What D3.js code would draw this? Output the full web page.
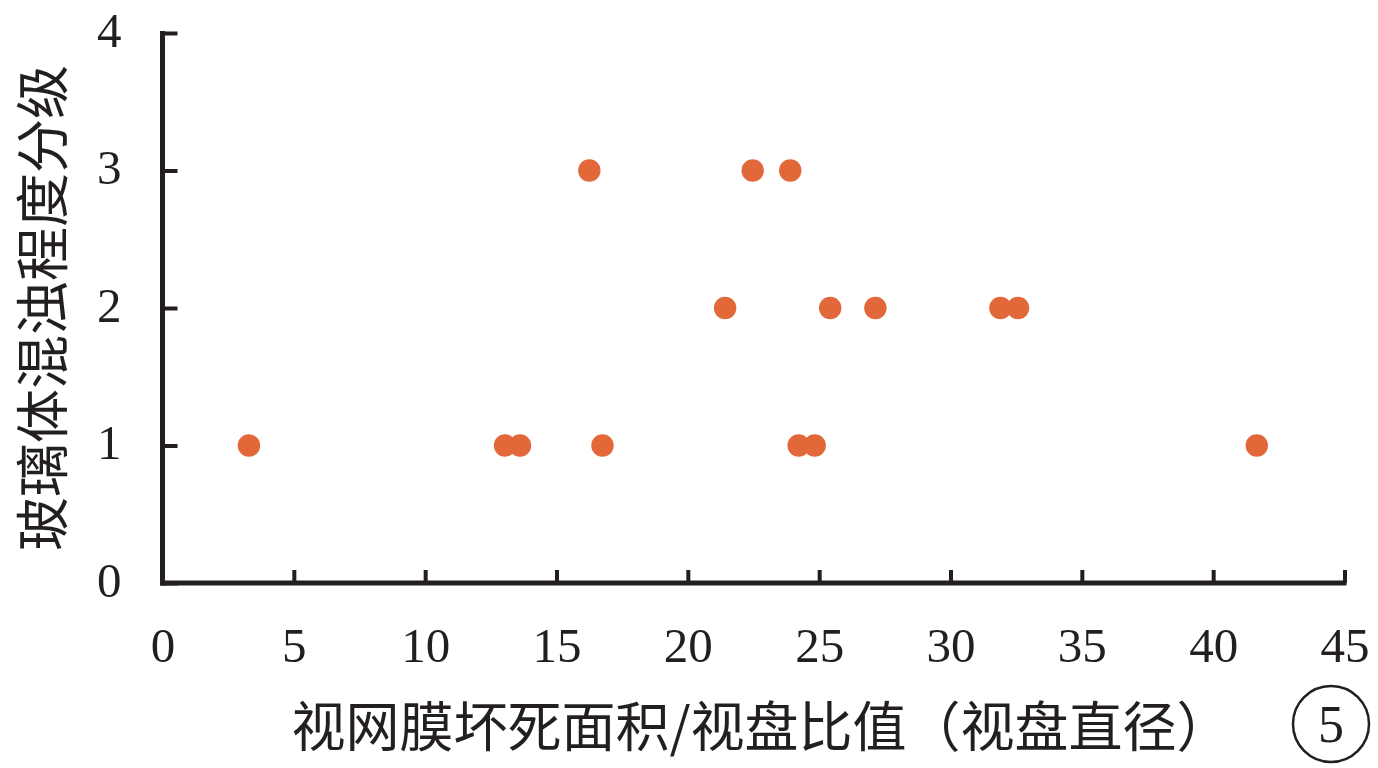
<!DOCTYPE html>
<html>
<head>
<meta charset="utf-8">
<script src="https://cdn.jsdelivr.net/npm/d3@7"></script>
<style>
html,body{margin:0;padding:0;background:#fff;}
svg{display:block;}
</style>
</head>
<body>
<svg id="chart" width="1378" height="768"></svg>
<script>
// Data
const xValues = [3.29, 13.04, 13.61, 16.75, 24.22, 24.83, 41.66, 21.42, 25.42, 27.14, 31.90, 32.57, 16.25, 22.47, 23.90];
const yValues = [1, 1, 1, 1, 1, 1, 1, 2, 2, 2, 2, 2, 3, 3, 3];
const xTicks = [0, 5, 10, 15, 20, 25, 30, 35, 40, 45];
const yTicks = [0, 1, 2, 3, 4];
const xTitle = "视网膜坏死面积/视盘比值（视盘直径）";
const yTitle = "玻璃体混浊程度分级";
const panelMark = "5";

const svg = d3.select("#chart");
const x = d3.scaleLinear().domain([0, 45]).range([162.5, 1344.5]);
const y = d3.scaleLinear().domain([0, 4]).range([583, 33]);

const numFont = "'Liberation Serif','DejaVu Serif',serif";
const cjkFont = "'Noto Sans CJK SC','Noto Sans CJK JP',sans-serif";

// X axis (ticks pointing inward/up)
const xAxis = d3.axisBottom(x).tickValues(xTicks).tickSize(-13).tickSizeOuter(0).tickFormat(d3.format("d"));
const gx = svg.append("g").attr("transform", `translate(0,${y(0)})`).call(xAxis);
gx.select(".domain").attr("stroke", "#231f20").attr("stroke-width", 5)
  .attr("d", `M${x(0)-2.5},0H${x(45)+2}`);
gx.selectAll(".tick line").attr("stroke", "#231f20").attr("stroke-width", 4);
gx.selectAll(".tick text").attr("fill", "#231f20").attr("font-family", numFont)
  .attr("font-size", 49).attr("dy", null).attr("y", 79);

// Y axis (ticks pointing inward/right)
const yAxis = d3.axisLeft(y).tickValues(yTicks).tickSize(-15).tickSizeOuter(0).tickFormat(d3.format("d"));
const gy = svg.append("g").attr("transform", `translate(${x(0)},0)`).call(yAxis);
gy.select(".domain").attr("stroke", "#231f20").attr("stroke-width", 5)
  .attr("d", `M0,${y(4)-2}V${y(0)+2.5}`);
gy.selectAll(".tick line").attr("stroke", "#231f20").attr("stroke-width", 4);
gy.selectAll(".tick text").attr("fill", "#231f20").attr("font-family", numFont)
  .attr("font-size", 49).attr("dy", null).attr("x", -41).attr("y", 13);

// Points
svg.append("g").selectAll("circle")
  .data(xValues.map((v, i) => ({x: v, y: yValues[i]})))
  .join("circle")
  .attr("cx", d => x(d.x))
  .attr("cy", d => y(d.y))
  .attr("r", 11.2)
  .attr("fill", "#e2683a");

// Axis titles
svg.append("text")
  .attr("x", 761).attr("y", 747)
  .attr("text-anchor", "middle")
  .attr("font-family", cjkFont)
  .attr("font-size", 54)
  .attr("fill", "#231f20")
  .text(xTitle);

svg.append("text")
  .attr("transform", "translate(63,308) rotate(-90)")
  .attr("text-anchor", "middle")
  .attr("font-family", cjkFont)
  .attr("font-size", 54)
  .attr("fill", "#231f20")
  .text(yTitle);

// Panel mark
svg.append("circle").attr("cx", 1331).attr("cy", 724).attr("r", 38)
  .attr("fill", "none").attr("stroke", "#231f20").attr("stroke-width", 2.5);
svg.append("text").attr("x", 1331).attr("y", 742)
  .attr("text-anchor", "middle").attr("font-family", numFont)
  .attr("font-size", 52).attr("fill", "#231f20").text(panelMark);
</script>
</body>
</html>
